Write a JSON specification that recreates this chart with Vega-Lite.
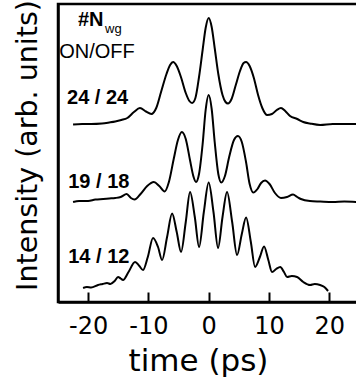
{
  "$schema": "https://vega.github.io/schema/vega-lite/v6.json",
  "width": 300,
  "height": 298,
  "autosize": "none",
  "padding": {"left": 58, "top": 4, "right": 0, "bottom": 80},
  "background": "white",
  "config": {"view": {"stroke": "black", "strokeWidth": 2.5}},
  "layer": [
    {
      "data": {"values": [
        {"s": "24/24", "t": -22.5, "I": 177.5}, {"s": "24/24", "t": -21, "I": 178}, {"s": "24/24", "t": -19.5, "I": 178}, {"s": "24/24", "t": -17.7, "I": 178.5}, {"s": "24/24", "t": -16.5, "I": 179.5}, {"s": "24/24", "t": -15.5, "I": 180.5}, {"s": "24/24", "t": -14.5, "I": 182}, {"s": "24/24", "t": -13.5, "I": 184}, {"s": "24/24", "t": -12.4, "I": 190}, {"s": "24/24", "t": -11.4, "I": 194}, {"s": "24/24", "t": -10.4, "I": 190.5}, {"s": "24/24", "t": -9.5, "I": 188}, {"s": "24/24", "t": -8.7, "I": 194}, {"s": "24/24", "t": -7.9, "I": 210}, {"s": "24/24", "t": -7.0, "I": 228}, {"s": "24/24", "t": -6.4, "I": 237}, {"s": "24/24", "t": -5.9, "I": 240}, {"s": "24/24", "t": -5.3, "I": 236}, {"s": "24/24", "t": -4.6, "I": 225}, {"s": "24/24", "t": -3.8, "I": 209}, {"s": "24/24", "t": -3.2, "I": 201}, {"s": "24/24", "t": -2.75, "I": 199}, {"s": "24/24", "t": -2.2, "I": 204}, {"s": "24/24", "t": -1.6, "I": 225}, {"s": "24/24", "t": -1.0, "I": 252}, {"s": "24/24", "t": -0.5, "I": 274}, {"s": "24/24", "t": 0, "I": 284}, {"s": "24/24", "t": 0.5, "I": 275}, {"s": "24/24", "t": 1.0, "I": 254}, {"s": "24/24", "t": 1.6, "I": 228}, {"s": "24/24", "t": 2.3, "I": 207}, {"s": "24/24", "t": 2.8, "I": 200}, {"s": "24/24", "t": 3.2, "I": 198.5}, {"s": "24/24", "t": 3.8, "I": 203}, {"s": "24/24", "t": 4.5, "I": 217}, {"s": "24/24", "t": 5.2, "I": 231}, {"s": "24/24", "t": 5.8, "I": 239}, {"s": "24/24", "t": 6.2, "I": 240}, {"s": "24/24", "t": 6.8, "I": 236}, {"s": "24/24", "t": 7.5, "I": 224}, {"s": "24/24", "t": 8.2, "I": 207}, {"s": "24/24", "t": 8.9, "I": 194}, {"s": "24/24", "t": 9.7, "I": 187}, {"s": "24/24", "t": 10.5, "I": 188}, {"s": "24/24", "t": 11.3, "I": 192}, {"s": "24/24", "t": 12, "I": 194}, {"s": "24/24", "t": 12.7, "I": 191}, {"s": "24/24", "t": 13.5, "I": 186}, {"s": "24/24", "t": 14.7, "I": 183}, {"s": "24/24", "t": 15.7, "I": 180}, {"s": "24/24", "t": 16.8, "I": 178.5}, {"s": "24/24", "t": 18.5, "I": 177}, {"s": "24/24", "t": 20.6, "I": 178}, {"s": "24/24", "t": 22.5, "I": 178}, {"s": "24/24", "t": 24.8, "I": 178},
        {"s": "19/18", "t": -22.5, "I": 100}, {"s": "19/18", "t": -21.5, "I": 101}, {"s": "19/18", "t": -20, "I": 101}, {"s": "19/18", "t": -18.8, "I": 102.5}, {"s": "19/18", "t": -17.5, "I": 103}, {"s": "19/18", "t": -16.5, "I": 103.5}, {"s": "19/18", "t": -15.5, "I": 104}, {"s": "19/18", "t": -14.6, "I": 105}, {"s": "19/18", "t": -13.6, "I": 108}, {"s": "19/18", "t": -12.9, "I": 104}, {"s": "19/18", "t": -12.3, "I": 102.5}, {"s": "19/18", "t": -11.3, "I": 108}, {"s": "19/18", "t": -10.2, "I": 116}, {"s": "19/18", "t": -9.1, "I": 120}, {"s": "19/18", "t": -8.2, "I": 116}, {"s": "19/18", "t": -7.3, "I": 110.5}, {"s": "19/18", "t": -6.6, "I": 120}, {"s": "19/18", "t": -5.8, "I": 143}, {"s": "19/18", "t": -5.1, "I": 162}, {"s": "19/18", "t": -4.45, "I": 170}, {"s": "19/18", "t": -3.8, "I": 163}, {"s": "19/18", "t": -3.1, "I": 142}, {"s": "19/18", "t": -2.5, "I": 125}, {"s": "19/18", "t": -2.1, "I": 120}, {"s": "19/18", "t": -1.6, "I": 128}, {"s": "19/18", "t": -1.0, "I": 158}, {"s": "19/18", "t": -0.5, "I": 192}, {"s": "19/18", "t": 0, "I": 207}, {"s": "19/18", "t": 0.5, "I": 193}, {"s": "19/18", "t": 1.0, "I": 160}, {"s": "19/18", "t": 1.6, "I": 128}, {"s": "19/18", "t": 2.1, "I": 119.5}, {"s": "19/18", "t": 2.7, "I": 126}, {"s": "19/18", "t": 3.4, "I": 145}, {"s": "19/18", "t": 4.2, "I": 162}, {"s": "19/18", "t": 4.85, "I": 166}, {"s": "19/18", "t": 5.5, "I": 160}, {"s": "19/18", "t": 6.2, "I": 140}, {"s": "19/18", "t": 6.8, "I": 118}, {"s": "19/18", "t": 7.4, "I": 109.5}, {"s": "19/18", "t": 8.1, "I": 113}, {"s": "19/18", "t": 8.7, "I": 119}, {"s": "19/18", "t": 9.35, "I": 121.5}, {"s": "19/18", "t": 10.1, "I": 118}, {"s": "19/18", "t": 11.0, "I": 109}, {"s": "19/18", "t": 12.0, "I": 104}, {"s": "19/18", "t": 13.0, "I": 105}, {"s": "19/18", "t": 14.0, "I": 107.5}, {"s": "19/18", "t": 14.7, "I": 105}, {"s": "19/18", "t": 15.3, "I": 103}, {"s": "19/18", "t": 16.8, "I": 101}, {"s": "19/18", "t": 18.5, "I": 100.5}, {"s": "19/18", "t": 20.6, "I": 100}, {"s": "19/18", "t": 22.5, "I": 100.5}, {"s": "19/18", "t": 24.8, "I": 100},
        {"s": "14/12", "t": -20.84, "I": 14}, {"s": "14/12", "t": -20.2, "I": 15}, {"s": "14/12", "t": -19.5, "I": 14.5}, {"s": "14/12", "t": -18.35, "I": 17}, {"s": "14/12", "t": -17.6, "I": 18}, {"s": "14/12", "t": -16.86, "I": 19}, {"s": "14/12", "t": -16.3, "I": 18}, {"s": "14/12", "t": -15.6, "I": 21}, {"s": "14/12", "t": -15.04, "I": 25}, {"s": "14/12", "t": -14.6, "I": 23.5}, {"s": "14/12", "t": -14.21, "I": 22}, {"s": "14/12", "t": -13.3, "I": 30}, {"s": "14/12", "t": -12.21, "I": 40}, {"s": "14/12", "t": -11.5, "I": 36}, {"s": "14/12", "t": -10.89, "I": 32}, {"s": "14/12", "t": -10.1, "I": 45}, {"s": "14/12", "t": -9.23, "I": 64}, {"s": "14/12", "t": -8.4, "I": 55}, {"s": "14/12", "t": -7.73, "I": 42}, {"s": "14/12", "t": -6.9, "I": 65}, {"s": "14/12", "t": -6.07, "I": 88.5}, {"s": "14/12", "t": -5.3, "I": 70}, {"s": "14/12", "t": -4.58, "I": 50}, {"s": "14/12", "t": -3.8, "I": 80}, {"s": "14/12", "t": -3.09, "I": 110}, {"s": "14/12", "t": -2.3, "I": 85}, {"s": "14/12", "t": -1.59, "I": 55}, {"s": "14/12", "t": -0.8, "I": 90}, {"s": "14/12", "t": 0, "I": 119.5}, {"s": "14/12", "t": 0.8, "I": 90}, {"s": "14/12", "t": 1.56, "I": 54}, {"s": "14/12", "t": 2.3, "I": 85}, {"s": "14/12", "t": 3.05, "I": 110}, {"s": "14/12", "t": 3.9, "I": 80}, {"s": "14/12", "t": 4.71, "I": 47}, {"s": "14/12", "t": 5.5, "I": 68}, {"s": "14/12", "t": 6.21, "I": 84.5}, {"s": "14/12", "t": 7.0, "I": 60}, {"s": "14/12", "t": 7.7, "I": 35}, {"s": "14/12", "t": 8.5, "I": 45}, {"s": "14/12", "t": 9.19, "I": 55.5}, {"s": "14/12", "t": 9.9, "I": 42}, {"s": "14/12", "t": 10.52, "I": 30}, {"s": "14/12", "t": 11.2, "I": 33}, {"s": "14/12", "t": 11.88, "I": 35}, {"s": "14/12", "t": 12.5, "I": 30}, {"s": "14/12", "t": 13.01, "I": 25}, {"s": "14/12", "t": 13.8, "I": 26}, {"s": "14/12", "t": 14.67, "I": 25}, {"s": "14/12", "t": 15.7, "I": 20}, {"s": "14/12", "t": 16.83, "I": 17}, {"s": "14/12", "t": 17.6, "I": 18}, {"s": "14/12", "t": 18.49, "I": 17}, {"s": "14/12", "t": 19.2, "I": 15}, {"s": "14/12", "t": 19.81, "I": 11}
      ]},
      "mark": {"type": "line", "color": "black", "strokeWidth": 2, "interpolate": "monotone", "clip": true},
      "encoding": {
        "x": {
          "field": "t", "type": "quantitative",
          "scale": {"domain": [-25, 24.78], "nice": false, "zero": false},
          "axis": {
            "title": "time (ps)",
            "values": [-20, -15, -10, -5, 0, 5, 10, 15, 20],
            "labelExpr": "datum.value % 10 === 0 ? '' + datum.value : ''",
            "tickSize": {"condition": {"test": "datum.value % 10 === 0", "value": -10}, "value": -5},
            "tickWidth": 2, "tickColor": "black",
            "domainColor": "black", "domainWidth": 2.5,
            "labelFont": "DejaVu Sans", "labelFontSize": 24, "labelColor": "black", "labelPadding": 22,
            "titleFont": "DejaVu Sans", "titleFontSize": 31, "titleFontWeight": "normal", "titleColor": "black", "titlePadding": 8,
            "titleX": 140,
            "grid": false
          }
        },
        "y": {
          "field": "I", "type": "quantitative",
          "scale": {"domain": [0, 298], "nice": false},
          "axis": {
            "title": "Intensity (arb. units)", "ticks": false, "labels": false,
            "domainColor": "black", "domainWidth": 2.5, "grid": false,
            "titleFont": "DejaVu Sans", "titleFontSize": 28.5, "titleFontWeight": "normal", "titleColor": "black", "titlePadding": 16,
            "titleY": 141
          }
        },
        "detail": {"field": "s", "type": "nominal"}
      }
    },
    {
      "data": {"values": [
        {"t": -21.7, "I": 276, "label": "#N"},
        {"t": -23.5, "I": 198, "label": "24 / 24"},
        {"t": -23.3, "I": 114, "label": "19 / 18"},
        {"t": -23.3, "I": 39, "label": "14 / 12"}
      ]},
      "mark": {"type": "text", "align": "left", "baseline": "alphabetic", "font": "Liberation Sans", "fontWeight": "bold", "fontSize": 20, "color": "black"},
      "encoding": {
        "x": {"field": "t", "type": "quantitative"},
        "y": {"field": "I", "type": "quantitative"},
        "text": {"field": "label"}
      }
    },
    {
      "data": {"values": [{"t": -24.8, "I": 244, "label": "ON/OFF"}]},
      "mark": {"type": "text", "align": "left", "baseline": "alphabetic", "font": "Liberation Sans", "fontSize": 20, "color": "black"},
      "encoding": {
        "x": {"field": "t", "type": "quantitative"},
        "y": {"field": "I", "type": "quantitative"},
        "text": {"field": "label"}
      }
    },
    {
      "data": {"values": [{"t": -17.2, "I": 269, "label": "wg"}]},
      "mark": {"type": "text", "align": "left", "baseline": "alphabetic", "font": "Liberation Sans", "fontSize": 13, "color": "black"},
      "encoding": {
        "x": {"field": "t", "type": "quantitative"},
        "y": {"field": "I", "type": "quantitative"},
        "text": {"field": "label"}
      }
    }
  ]
}
